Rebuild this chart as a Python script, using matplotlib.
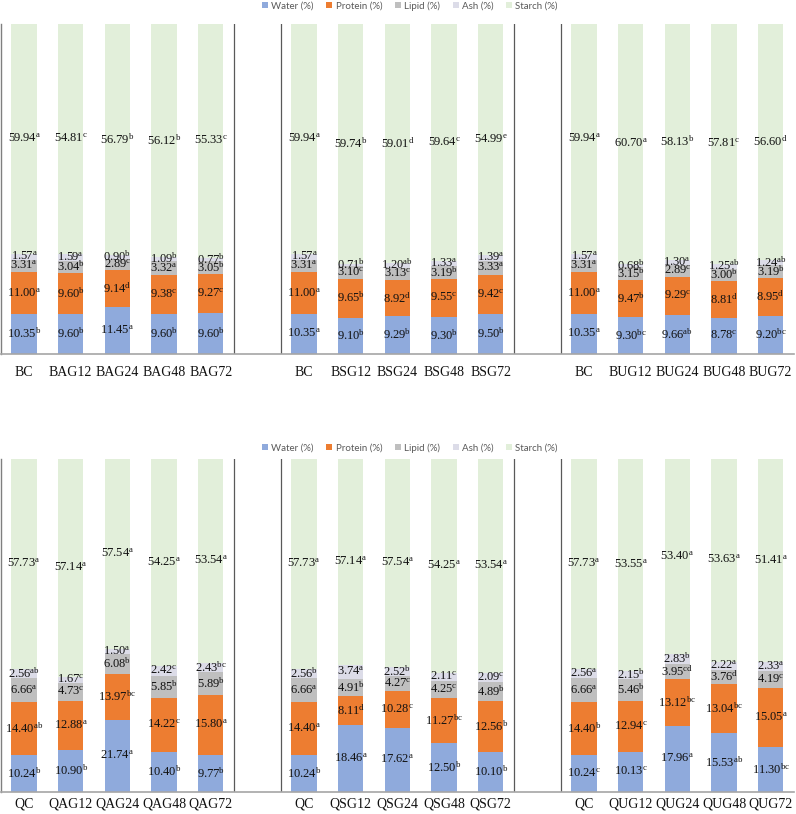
import matplotlib
matplotlib.use("Agg")
import matplotlib.pyplot as plt
from matplotlib.patches import Patch
import numpy as np

plt.rcParams['mathtext.fontset'] = 'custom'
plt.rcParams['mathtext.rm'] = 'Liberation Serif'
plt.rcParams['mathtext.it'] = 'Liberation Serif:italic'
plt.rcParams['mathtext.bf'] = 'Liberation Serif:bold'

components = ["Water (%)", "Protein (%)", "Lipid (%)", "Ash (%)", "Starch (%)"]
colors = ["#8FAADC", "#ED7D31", "#BFBFBF", "#DCDCE8", "#E2EFDA"]

# ---------------- Top panel ----------------
top_labels = ["BC", "BAG12", "BAG24", "BAG48", "BAG72",
              "BC", "BSG12", "BSG24", "BSG48", "BSG72",
              "BC", "BUG12", "BUG24", "BUG48", "BUG72"]
top_water = [10.35, 9.60, 11.45, 9.60, 9.60,
             10.35, 9.10, 9.29, 9.30, 9.50,
             10.35, 9.30, 9.66, 8.78, 9.20]
top_water_sig = ["b", "b", "a", "b", "b",
                 "a", "b", "b", "b", "b",
                 "a", "bc", "ab", "c", "bc"]
top_protein = [11.00, 9.60, 9.14, 9.38, 9.27,
               11.00, 9.65, 8.92, 9.55, 9.42,
               11.00, 9.47, 9.29, 8.81, 8.95]
top_protein_sig = ["a", "b", "d", "c", "c",
                   "a", "b", "d", "c", "c",
                   "a", "b", "c", "d", "d"]
top_lipid = [3.31, 3.04, 2.89, 3.32, 3.05,
             3.31, 3.10, 3.13, 3.19, 3.33,
             3.31, 3.15, 2.89, 3.00, 3.19]
top_lipid_sig = ["a", "b", "c", "a", "b",
                 "a", "c", "c", "b", "a",
                 "a", "b", "c", "b", "b"]
top_ash = [1.57, 1.59, 0.90, 1.09, 0.77,
           1.57, 0.71, 1.20, 1.33, 1.39,
           1.57, 0.68, 1.30, 1.25, 1.24]
top_ash_sig = ["a", "a", "b", "b", "b",
               "a", "b", "ab", "a", "a",
               "a", "b", "a", "ab", "ab"]
top_starch = [59.94, 54.81, 56.79, 56.12, 55.33,
              59.94, 59.74, 59.01, 59.64, 54.99,
              59.94, 60.70, 58.13, 57.81, 56.60]
top_starch_sig = ["a", "c", "b", "b", "c",
                  "a", "b", "d", "c", "e",
                  "a", "a", "b", "c", "d"]

# ---------------- Bottom panel ----------------
bot_labels = ["QC", "QAG12", "QAG24", "QAG48", "QAG72",
              "QC", "QSG12", "QSG24", "QSG48", "QSG72",
              "QC", "QUG12", "QUG24", "QUG48", "QUG72"]
bot_water = [10.24, 10.90, 21.74, 10.40, 9.77,
             10.24, 18.46, 17.62, 12.50, 10.10,
             10.24, 10.13, 17.96, 15.53, 11.30]
bot_water_sig = ["b", "b", "a", "b", "b",
                 "b", "a", "a", "b", "b",
                 "c", "c", "a", "ab", "bc"]
bot_protein = [14.40, 12.88, 13.97, 14.22, 15.80,
               14.40, 8.11, 10.28, 11.27, 12.56,
               14.40, 12.94, 13.12, 13.04, 15.05]
bot_protein_sig = ["ab", "a", "bc", "c", "a",
                   "a", "d", "c", "bc", "b",
                   "b", "c", "bc", "bc", "a"]
bot_lipid = [6.66, 4.73, 6.08, 5.85, 5.89,
             6.66, 4.91, 4.27, 4.25, 4.89,
             6.66, 5.46, 3.95, 3.76, 4.19]
bot_lipid_sig = ["a", "c", "b", "b", "b",
                 "a", "b", "c", "c", "b",
                 "a", "b", "cd", "d", "c"]
bot_ash = [2.56, 1.67, 1.50, 2.42, 2.43,
           2.56, 3.74, 2.52, 2.11, 2.09,
           2.56, 2.15, 2.83, 2.22, 2.33]
bot_ash_sig = ["ab", "c", "a", "c", "bc",
               "b", "a", "b", "c", "c",
               "a", "b", "b", "a", "a"]
bot_starch = [57.73, 57.14, 57.54, 54.25, 53.54,
              57.73, 57.14, 57.54, 54.25, 53.54,
              57.73, 53.55, 53.40, 53.63, 51.41]
bot_starch_sig = ["a", "a", "a", "a", "a",
                  "a", "a", "a", "a", "a",
                  "a", "a", "a", "a", "a"]

group_starts = [0, 6, 12]
positions = np.concatenate([np.arange(5) + g for g in group_starts])

W, H = 796, 814
fig = plt.figure(figsize=(W / 100, H / 100), dpi=100)

serif = "Liberation Serif"


def draw_panel(ax, labels, series, sigs, pad):
    vals = np.array(series, dtype=float)
    totals = vals.sum(axis=0)
    pct = vals / totals * 100
    bottom = np.zeros(len(labels))
    for k in range(len(series)):
        ax.bar(positions, pct[k], bottom=bottom, width=0.54,
               color=colors[k], edgecolor="none", zorder=2)
        for i, x in enumerate(positions):
            y = bottom[i] + pct[k][i] / 2
            txt = f"{vals[k][i]:.2f}" + r"$^{\rm " + sigs[k][i] + "}$"
            ax.text(x, y, txt, ha="center", va="center", fontsize=9,
                    family=serif, color="#111111", zorder=3)
        bottom += pct[k]
    ax.set_xlim(-0.5, 16.5)
    ax.set_ylim(0, 100)
    ax.set_xticks(positions)
    ax.set_xticklabels(labels, family=serif, fontsize=10, color="#111111")
    ax.tick_params(axis="x", length=0, pad=pad)
    ax.set_yticks([])
    for s in ["top", "right"]:
        ax.spines[s].set_visible(False)
    ax.spines["left"].set_color("#7F7F7F")
    ax.spines["left"].set_linewidth(1.0)
    ax.spines["bottom"].set_color("#A6A6A6")
    ax.spines["bottom"].set_linewidth(1.2)
    for xv in [4.5, 5.5, 10.5, 11.5]:
        ax.axvline(xv, color="#595959", lw=0.9, zorder=1)


ax1 = fig.add_axes([0.7 / W, 1 - 354 / H, 793.3 / W, 330 / H])
draw_panel(ax1, top_labels,
           [top_water, top_protein, top_lipid, top_ash, top_starch],
           [top_water_sig, top_protein_sig, top_lipid_sig, top_ash_sig, top_starch_sig],
           pad=9)

ax2 = fig.add_axes([0.7 / W, 1 - 792 / H, 793.3 / W, 333 / H])
draw_panel(ax2, bot_labels,
           [bot_water, bot_protein, bot_lipid, bot_ash, bot_starch],
           [bot_water_sig, bot_protein_sig, bot_lipid_sig, bot_ash_sig, bot_starch_sig],
           pad=4)

handles = [Patch(facecolor=c, edgecolor="none", label=l) for c, l in zip(colors, components)]
for yc in [1 - 6 / H, 1 - 448 / H]:
    fig.legend(handles=handles, loc="center", bbox_to_anchor=(410 / W, yc),
               ncol=5, frameon=False, prop={"family": "Lato", "size": 7},
               handlelength=0.6, handleheight=0.6, handletextpad=0.35,
               columnspacing=1.3, labelcolor="#595959")

fig.savefig("out.png", dpi=100)
